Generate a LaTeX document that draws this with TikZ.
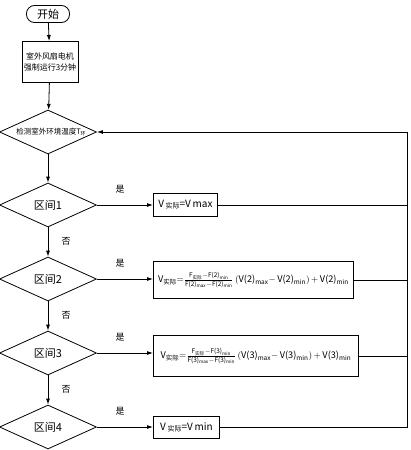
\documentclass[tikz,border=0pt]{standalone}
\usepackage{fontspec}
\usepackage{amsmath}
\usetikzlibrary{shapes.geometric,arrows.meta,calc}
\newfontfamily\cjk{Noto Sans CJK SC}
\newcommand\tx[1]{\text{#1}}
\begin{document}
\begin{tikzpicture}[x=1pt,y=-1pt,
  line width=0.8pt,
  arr/.style={-{Latex[length=6pt,width=4pt]}},
  dia/.style={draw,diamond,aspect=2.2,inner sep=0pt,minimum width=97pt,minimum height=44pt},
  lbl/.style={font=\cjk\fontsize{9}{10}\selectfont},
  dtext/.style={font=\cjk\fontsize{11}{12}\selectfont},
  fbox/.style={draw,anchor=west,inner sep=2pt,font=\cjk\fontsize{10}{12}\selectfont},
  eqbox/.style={draw,anchor=west,inner sep=2pt,font=\cjk\fontsize{9.2}{11}\selectfont}]
\useasboundingbox (0,0) rectangle (410,450);
% start
\node[draw,rounded corners=8pt,minimum width=43pt,minimum height=17pt,inner sep=0pt,font=\cjk\fontsize{11}{12}\selectfont] (st) at (48,14) {开始};
\node[draw,minimum width=56pt,minimum height=41pt,inner sep=1pt,align=center,font=\cjk\fontsize{8}{11}\selectfont] (b0) at (50,62) {室外风扇电机\\强制运行3分钟};
\node[dia] (d0) at (48,132) {};
\node[font=\cjk\fontsize{7.5}{9}\selectfont] (t0) at (51,132) {检测室外环境温度T\raisebox{-1pt}{\fontsize{5}{6}\selectfont 环}};
\node[dia] (d1) at (48,205) {};
\node[dtext] (t1) at (48,205) {区间1};
\node[dia] (d2) at (48,279) {};
\node[dtext] (t2) at (48,279) {区间2};
\node[dia] (d3) at (48,353) {};
\node[dtext] (t3) at (48,353) {区间3};
\node[dia] (d4) at (48,427) {};
\node[dtext] (t4) at (48,427) {区间4};
% right boxes
\node[fbox,minimum height=23pt,minimum width=64pt] (b1) at (153,205) {V\,\raisebox{-1pt}{\fontsize{7}{8}\selectfont 实际}=V\,max};
\node[eqbox,minimum height=37pt,minimum width=200pt] (b2) at (153,280)
  {$\tx{V}_{\tx{实际}}{=}\frac{\tx{F}_{\tx{实际}}-\tx{F(2)}_{\tx{min}}}{\tx{F(2)}_{\tx{max}}-\tx{F(2)}_{\tx{min}}}\,(\tx{V(2)}_{\tx{max}}{-}\,\tx{V(2)}_{\tx{min}})\,{+}\,\tx{V(2)}_{\tx{min}}$};
\node[eqbox,minimum height=41pt,minimum width=205pt] (b3) at (153,356)
  {$\tx{V}_{\tx{实际}}{=}\frac{\tx{F}_{\tx{实际}}-\tx{F(3)}_{\tx{min}}}{\tx{F(3)}_{\tx{max}}-\tx{F(3)}_{\tx{min}}}\,(\tx{V(3)}_{\tx{max}}{-}\,\tx{V(3)}_{\tx{min}})\,{+}\,\tx{V(3)}_{\tx{min}}$};
\node[fbox,minimum height=22pt,minimum width=66pt] (b4) at (153,427) {V\,\raisebox{-1pt}{\fontsize{7}{8}\selectfont 实际}=V\,min};
\coordinate (rx) at (407,132);
% vertical flow
\draw[arr] (st) -- (b0);
\draw[arr] (b0) -- (d0);
\draw[arr] (d0) -- (d1);
\draw[arr] (d1) -- (d2);
\draw[arr] (d2) -- (d3);
\draw[arr] (d3) -- (d4);
% yes branches
\draw[arr] (d1.east) -- (b1.west);
\draw[arr] (d2.east) -- (d2.east -| b2.west);
\draw[arr] (d3.east) -- (d3.east -| b3.west);
\draw[arr] (d4.east) -- (b4.west);
% returns
\draw (b1.east) -- (b1.east -| rx);
\draw (b2.east) -- (b2.east -| rx);
\draw (b3.east) -- (b3.east -| rx);
\draw (b4.east) -| (rx);
\draw[arr] (rx) -- (d0.east);
% labels
\node[lbl] (y1) at (120,189) {是};
\node[lbl] (y2) at (120,263) {是};
\node[lbl] (y3) at (120,337) {是};
\node[lbl] (y4) at (120,411) {是};
\node[lbl] (n1) at (66,241) {否};
\node[lbl] (n2) at (66,315) {否};
\node[lbl] (n3) at (66,389) {否};
\end{tikzpicture}
\end{document}
